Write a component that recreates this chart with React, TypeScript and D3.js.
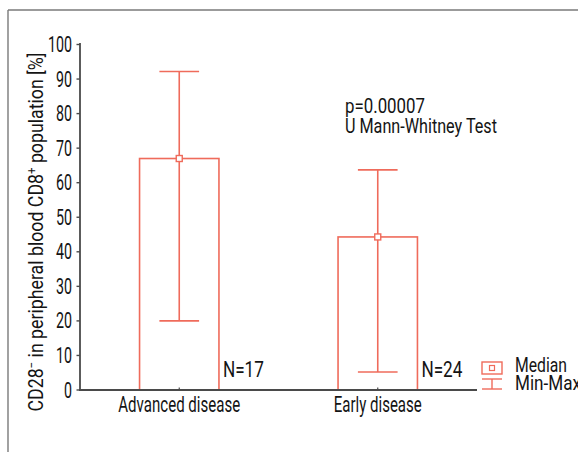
import React from "react";
import * as d3 from "d3";

const categories = ["Advanced disease", "Early disease"];
const medians = [67, 44.3];
const minimums = [20, 5.2];
const maximums = [92.2, 63.7];
const counts = ["N=17", "N=24"];
const yTicks = [0, 10, 20, 30, 40, 50, 60, 70, 80, 90, 100];
const pText = "p=0.00007";
const testText = "U Mann-Whitney Test";
const legendLabels = ["Median", "Min-Max"];

const RED = "#ef6b5b";
const INK = "#141414";
const AXIS = "#4a4a4a";
const FONT = "Roboto, 'DejaVu Sans Condensed', sans-serif";

export default function App() {
  const W = 578, H = 452;
  const x = d3.scalePoint<string>().domain(categories).range([80, 477]).padding(0.5);
  const y = d3.scaleLinear().domain([0, 100]).range([390, 44.5]);
  const step = x.step();
  const barW = step * 0.4;
  const capW = barW / 2;

  return (
    <svg width={W} height={H} style={{ position: "absolute", left: 0, top: 0, background: "#fff" }} fontFamily={FONT}>
      {/* frame */}
      <line x1={8} y1={10} x2={W} y2={10} stroke="#7a7a7a" strokeWidth={1.6} />
      <line x1={8} y1={10} x2={8} y2={H} stroke="#7a7a7a" strokeWidth={1.4} />

      {/* bars */}
      {categories.map((c, i) => {
        const cx = x(c)!;
        return (
          <g key={c}>
            <rect x={cx - barW / 2} y={y(medians[i])} width={barW} height={y(0) - y(medians[i])} fill="#fff" stroke={RED} strokeWidth={1.6} />
            <line x1={cx} x2={cx} y1={y(minimums[i])} y2={y(maximums[i])} stroke={RED} strokeWidth={1.6} />
            <line x1={cx - capW / 2} x2={cx + capW / 2} y1={y(maximums[i])} y2={y(maximums[i])} stroke={RED} strokeWidth={1.6} />
            <line x1={cx - capW / 2} x2={cx + capW / 2} y1={y(minimums[i])} y2={y(minimums[i])} stroke={RED} strokeWidth={1.6} />
            <rect x={cx - 3} y={y(medians[i]) - 3} width={6} height={6} fill="#fff" stroke={RED} strokeWidth={1.4} />
            <text x={cx + barW / 2 + 4} y={377} fontSize={21.5} fill={INK} textLength={41} lengthAdjust="spacingAndGlyphs">{counts[i]}</text>
          </g>
        );
      })}

      {/* axes */}
      <line x1={80} y1={43} x2={80} y2={391} stroke={AXIS} strokeWidth={1.8} />
      <line x1={79} y1={390} x2={477} y2={390} stroke={AXIS} strokeWidth={1.8} />
      {yTicks.map((t) => (
        <g key={t}>
          <line x1={76.5} x2={80} y1={y(t)} y2={y(t)} stroke={AXIS} strokeWidth={1.4} />
          <text x={72} y={y(t) + 7.5} fontSize={21.5} fill={INK} textAnchor="end" textLength={String(t).length * 8} lengthAdjust="spacingAndGlyphs">{t}</text>
        </g>
      ))}
      {categories.map((c, i) => (
        <g key={c}>
          <line x1={x(c)!} x2={x(c)!} y1={390} y2={387.5} stroke={AXIS} strokeWidth={1.2} />
          <text x={x(c)!} y={412} fontSize={21.5} fill={INK} textAnchor="middle" textLength={i === 0 ? 122 : 88} lengthAdjust="spacingAndGlyphs">{c}</text>
        </g>
      ))}

      {/* y label */}
      <text transform="translate(43,232) rotate(-90)" fontSize={20} fill={INK} textAnchor="middle" textLength={359} lengthAdjust="spacingAndGlyphs">
        CD28<tspan fontSize={13} dy={-7}>−</tspan><tspan dy={7}> in peripheral blood CD8</tspan><tspan fontSize={13} dy={-7}>+</tspan><tspan dy={7}> population [%]</tspan>
      </text>

      {/* stats */}
      <text x={345} y={113} fontSize={20.5} fill={INK} textLength={80} lengthAdjust="spacingAndGlyphs">{pText}</text>
      <text x={345} y={133} fontSize={20.5} fill={INK} textLength={152} lengthAdjust="spacingAndGlyphs">{testText}</text>

      {/* legend */}
      <rect x={482} y={362} width={20} height={12} fill="#fff" stroke={RED} strokeWidth={1.4} />
      <rect x={489.5} y={365.5} width={5} height={5} fill="#fff" stroke={RED} strokeWidth={1.2} />
      <line x1={482} x2={502} y1={379} y2={379} stroke={RED} strokeWidth={1.4} />
      <line x1={492} x2={492} y1={379} y2={389} stroke={RED} strokeWidth={1.4} />
      <line x1={482} x2={502} y1={389} y2={389} stroke={RED} strokeWidth={1.4} />
      <text x={515} y={372} fontSize={20.5} fill={INK} textLength={52} lengthAdjust="spacingAndGlyphs">{legendLabels[0]}</text>
      <text x={515} y={390} fontSize={20.5} fill={INK} textLength={66} lengthAdjust="spacingAndGlyphs">{legendLabels[1]}</text>
    </svg>
  );
}
